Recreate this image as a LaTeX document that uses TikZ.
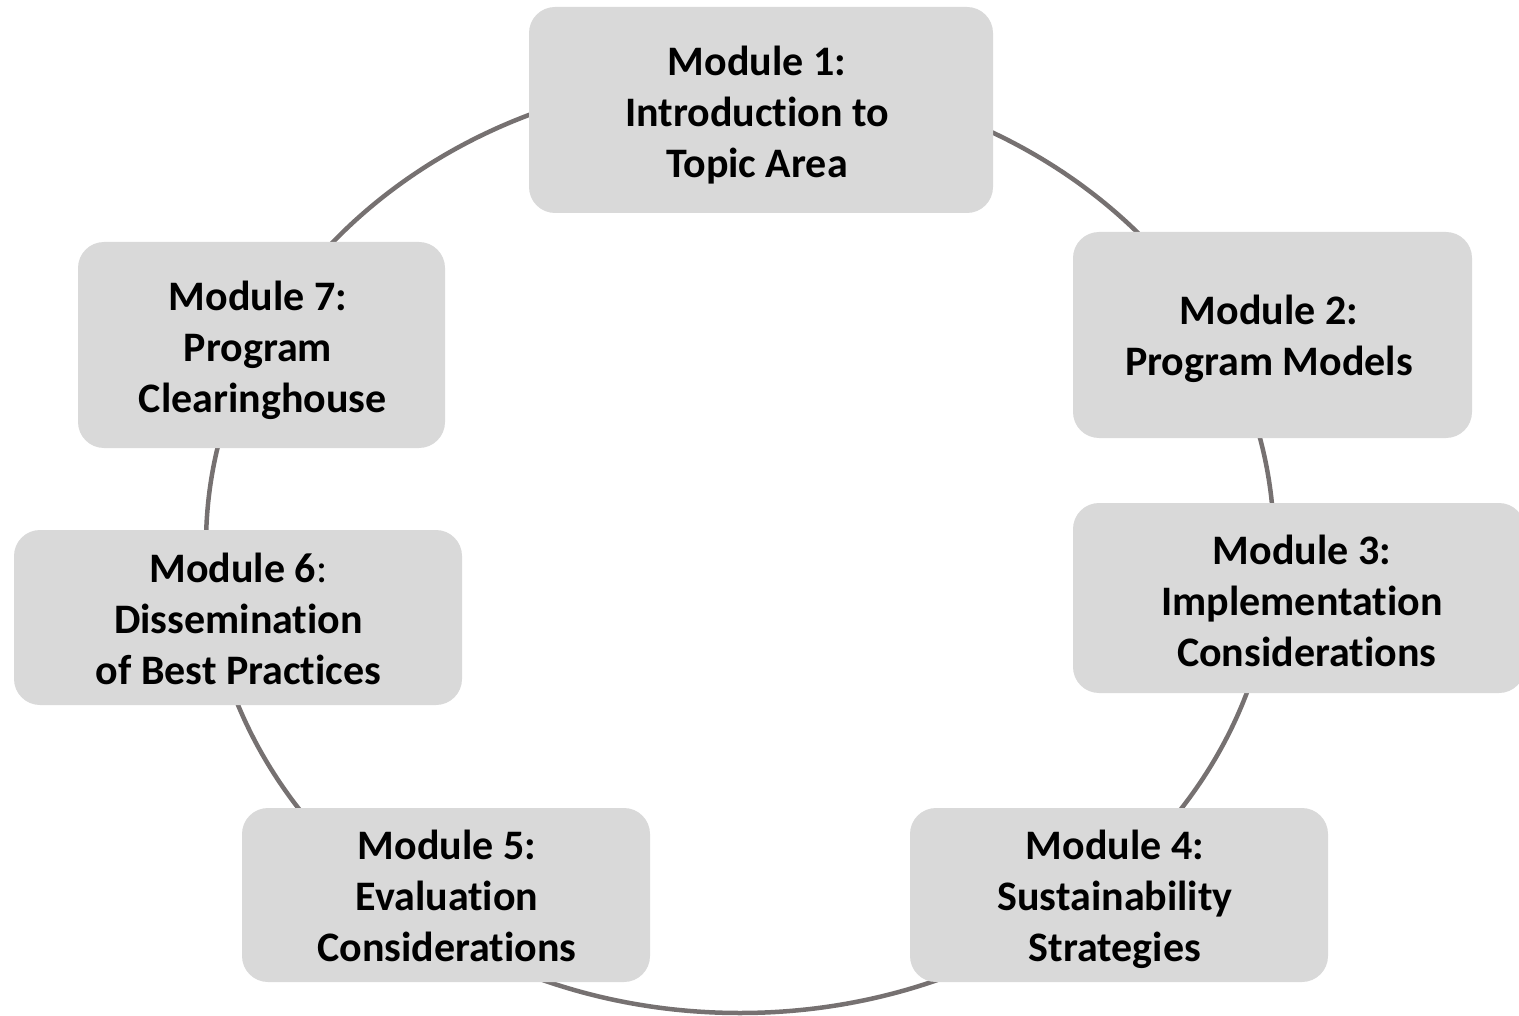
\documentclass[tikz,border=0pt]{standalone}
\usepackage{fontspec}
\setmainfont{Carlito}[RawFeature={-liga;-dlig;-clig}]
\definecolor{boxfill}{HTML}{D9D9D9}
\definecolor{ringcol}{HTML}{767171}
\tikzset{
  modbox/.style={fill=boxfill, rounded corners=26pt, inner sep=0pt},
  modtext/.style={inner sep=0pt, align=center,
    font=\fontsize{42}{51}\selectfont\bfseries},
  ring/.style={draw=ringcol, line width=4.5pt}
}
\begin{document}
\begin{tikzpicture}[x=1pt,y=-1pt]
\useasboundingbox (0,0) rectangle (1519,1016);
\draw[ring] (740,545) ellipse [x radius=534pt, y radius=468pt];
\node[modbox, minimum width=464pt, minimum height=206pt] (m1) at (761,110) {};
\node[modbox, minimum width=399pt, minimum height=206pt] (m2) at (1272.5,335) {};
\begin{scope}
\clip (0,0) rectangle (1519,1016);
\node[modbox, minimum width=452pt, minimum height=190pt] (m3) at (1299,598) {};
\end{scope}
\node[modbox, minimum width=418pt, minimum height=174pt] (m4) at (1119,895) {};
\node[modbox, minimum width=408pt, minimum height=174pt] (m5) at (446,895) {};
\node[modbox, minimum width=448pt, minimum height=175pt] (m6) at (238,617.5) {};
\node[modbox, minimum width=367pt, minimum height=206pt] (m7) at (261.5,345) {};
\node[modtext] (t1) at (757,115) {Module 1:\\Introduction to\\Topic Area};
\node[modtext] (t2) at (1269,339) {Module 2:\\Program Models};
\node[modtext] (t3) at (1302,601) {Module 3:\\Implementation\\\ Considerations};
\node[modtext] (t4) at (1115,899) {Module 4:\\Sustainability\\Strategies};
\node[modtext] (t5) at (447,896) {Module 5:\\Evaluation\\Considerations};
\node[modtext] (t6) at (238.5,619) {Module 6{\mdseries:}\\Dissemination\\of Best Practices};
\node[modtext] (t7) at (258,350) {Module 7:\\Program\\\ Clearinghouse};
\end{tikzpicture}
\end{document}
